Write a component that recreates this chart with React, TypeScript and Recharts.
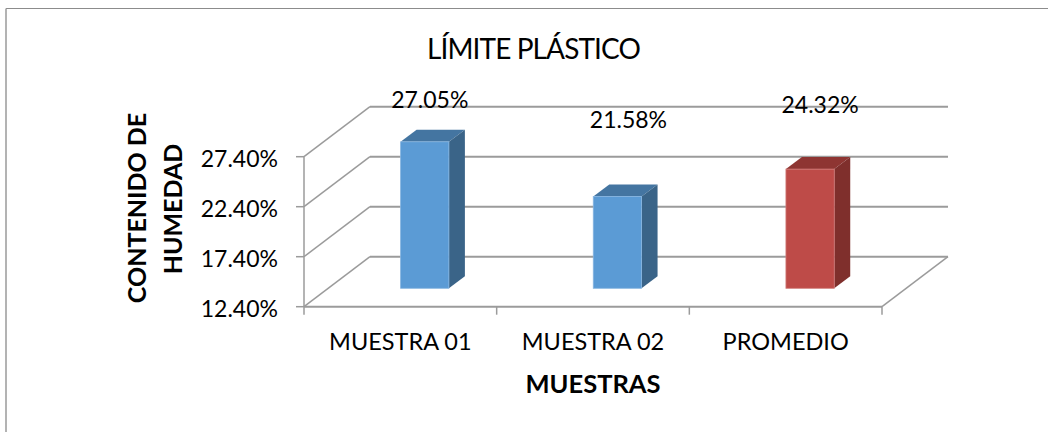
import React from "react";
import { BarChart, Bar, XAxis, YAxis, CartesianGrid, LabelList } from "recharts";

const categories = ["MUESTRA 01", "MUESTRA 02", "PROMEDIO"];
const humedad = [27.05, 21.58, 24.32];
const yTicks = [12.4, 17.4, 22.4, 27.4];
const labelLifts = [33.7, 69, 56];
const labelShifts = [5, 11, 10];

const rows = categories.map((muestra, i) => ({ muestra, humedad: humedad[i] }));

const FONT = "Lato, 'Open Sans', sans-serif";
const GRID = "#9b9b9b";
const WALL_DX = 66;
const WALL_DY = 50;
const BAR_SHIFT_X = 24.6;
const BAR_SHIFT_Y = 18.4;
const BAR_DEPTH_X = 16;
const BAR_DEPTH_Y = 12;

const BLUE = { front: "#5B9BD5", top: "#4475A1", side: "#3A6488", edge: "#86B5E0" };
const RED = { front: "#BE4B48", top: "#8E3532", side: "#7F2F2C", edge: "#D07C7A" };

const W = 1048;
const H = 432;
const PLOT = { left: 304, right: 882, top: 156.7, bottom: 306.7 };
const BAND = (PLOT.right - PLOT.left) / categories.length;

// One floor-to-back-wall gridline: a diagonal up the side wall, then the run along the back.
function WallLine(props: any) {
  const { x1, x2, y1 } = props;
  const isFloor = Math.abs(y1 - PLOT.bottom) < 1;
  const stroke = { stroke: GRID, fill: "none" };
  return (
    <g>
      <line x1={x1} y1={y1} x2={x1 + WALL_DX} y2={y1 - WALL_DY} {...stroke} strokeWidth={1.5} />
      <line x1={x1 + WALL_DX} y1={y1 - WALL_DY} x2={x2 + WALL_DX} y2={y1 - WALL_DY} {...stroke} strokeWidth={2} />
      {isFloor && <line x1={x2} y1={y1} x2={x2 + WALL_DX} y2={y1 - WALL_DY} {...stroke} strokeWidth={1.5} />}
    </g>
  );
}

// Column with a front face, a lid and a right-hand side, set back from the axis plane.
function Column(props: any) {
  const { x, y, width, height, index } = props;
  const tone = index === 2 ? RED : BLUE;
  const l = x + BAR_SHIFT_X;
  const r = l + width;
  const t = y - BAR_SHIFT_Y;
  const b = t + height;
  return (
    <g>
      <polygon
        points={`${l},${t} ${r},${t} ${r + BAR_DEPTH_X},${t - BAR_DEPTH_Y} ${l + BAR_DEPTH_X},${t - BAR_DEPTH_Y}`}
        fill={tone.top}
      />
      <polygon
        points={`${r},${t} ${r + BAR_DEPTH_X},${t - BAR_DEPTH_Y} ${r + BAR_DEPTH_X},${b - BAR_DEPTH_Y} ${r},${b}`}
        fill={tone.side}
      />
      <rect x={l} y={t} width={width} height={height} fill={tone.front} stroke={tone.edge} strokeWidth={0.8} />
    </g>
  );
}

function ValueLabel(props: any) {
  const { x, y, width, index, value } = props;
  return (
    <text
      x={x + width / 2 + BAR_SHIFT_X + labelShifts[index]}
      y={y - BAR_SHIFT_Y - labelLifts[index]}
      textAnchor="middle"
      fontFamily={FONT}
      fontSize={23}
      fill="#000"
    >
      {`${Number(value).toFixed(2)}%`}
    </text>
  );
}

// Category label, plus tick marks on the band edges rather than the band centres.
function CategoryTick(props: any) {
  const { x, payload, index } = props;
  const left = x - BAND / 2;
  return (
    <g>
      <line x1={left} y1={PLOT.bottom} x2={left} y2={PLOT.bottom + 8} stroke={GRID} strokeWidth={1.5} />
      {index === categories.length - 1 && (
        <line x1={left + BAND} y1={PLOT.bottom} x2={left + BAND} y2={PLOT.bottom + 8} stroke={GRID} strokeWidth={1.5} />
      )}
      <text x={x} y={350} textAnchor="middle" fontFamily={FONT} fontSize={23.5} fill="#000">
        {payload.value}
      </text>
    </g>
  );
}

function PercentTick(props: any) {
  const { x, y, payload } = props;
  return (
    <text x={x} y={y + 10} textAnchor="end" fontFamily={FONT} fontSize={23} fill="#000">
      {`${Number(payload.value).toFixed(2)}%`}
    </text>
  );
}

export default function App() {
  return (
    <div style={{ position: "absolute", left: 0, top: 0, width: W, height: H, background: "#fff" }}>
      <BarChart
        width={W}
        height={H}
        data={rows}
        barSize={48.3}
        margin={{ top: PLOT.top, right: W - PLOT.right, bottom: 65.3, left: 0 }}
      >
        <line x1={6} y1={8.5} x2={W} y2={8.5} stroke="#8c8c8c" strokeWidth={1.2} />
        <line x1={6} y1={8.5} x2={6} y2={H} stroke="#9a9a9a" strokeWidth={1.5} />
        <text x={533.5} y={59} textAnchor="middle" fontFamily={FONT} fontSize={28} letterSpacing={-0.9} fill="#000">
          LÍMITE PLÁSTICO
        </text>
        <CartesianGrid vertical={false} horizontal={(p: any) => <WallLine key={p.key} {...p} />} />
        <XAxis
          dataKey="muestra"
          height={60}
          interval={0}
          axisLine={{ stroke: GRID, strokeWidth: 2 }}
          tickLine={false}
          tick={(p: any) => <CategoryTick {...p} />}
          label={
            <g>
              <text x={593} y={393} textAnchor="middle" fontFamily={FONT} fontSize={25.5} fontWeight={700} fill="#000">
                MUESTRAS
              </text>
            </g>
          }
        />
        <YAxis
          width={PLOT.left}
          domain={[12.4, 27.4]}
          ticks={yTicks}
          interval={0}
          tickSize={8}
          tickMargin={18}
          axisLine={{ stroke: GRID, strokeWidth: 1.5 }}
          tickLine={{ stroke: GRID, strokeWidth: 1.5 }}
          tick={(p: any) => <PercentTick {...p} />}
          label={
            <g>
              <text transform="translate(146 208) rotate(-90)" textAnchor="middle" fontFamily={FONT} fontSize={25} fontWeight={700} fill="#000">
                CONTENIDO DE
              </text>
              <text transform="translate(182 209) rotate(-90)" textAnchor="middle" fontFamily={FONT} fontSize={25} fontWeight={700} fill="#000">
                HUMEDAD
              </text>
            </g>
          }
        />
        <Bar dataKey="humedad" shape={<Column />} isAnimationActive={false}>
          <LabelList dataKey="humedad" content={<ValueLabel />} />
        </Bar>
      </BarChart>
    </div>
  );
}
